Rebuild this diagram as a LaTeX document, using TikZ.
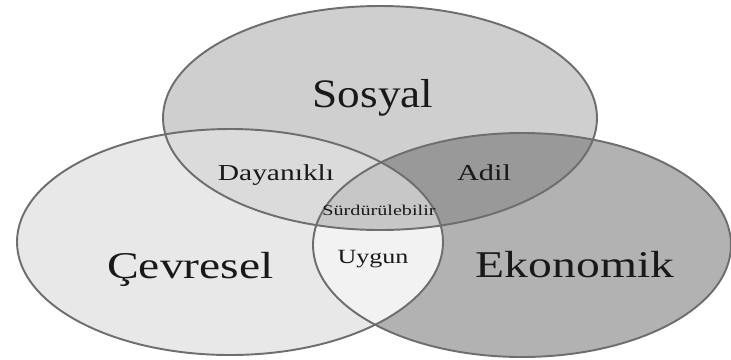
\documentclass[tikz,border=0pt]{standalone}
\usepackage{graphicx}
\usepackage{fontspec}
\setmainfont{Liberation Serif}
\tikzset{
  rim/.style={draw=black!57, line width=1.1pt},
  word/.style={anchor=base, text=black!90, inner sep=0pt}
}
\begin{document}
\begin{tikzpicture}
\useasboundingbox (0,0) rectangle (14.62,7.18);

\def\sosyalcircle{(7.60,4.82) ellipse (4.34cm and 2.24cm)}
\def\cevrecircle{(4.60,2.34) ellipse (4.26cm and 2.26cm)}
\def\ekocircle{(10.44,2.28) ellipse (4.18cm and 2.24cm)}

\fill[black!9] \cevrecircle;
\fill[black!30] \ekocircle;
\fill[black!19] \sosyalcircle;

\begin{scope}
\clip \sosyalcircle;
\fill[black!14] \cevrecircle;
\fill[black!40] \ekocircle;
\end{scope}

\begin{scope}
\clip \cevrecircle;
\fill[black!5] \ekocircle;
\end{scope}

\begin{scope}
\clip \sosyalcircle;
\clip \cevrecircle;
\fill[black!22] \ekocircle;
\end{scope}

\draw[rim] \cevrecircle;
\draw[rim] \ekocircle;
\draw[rim] \sosyalcircle;

\node[word] (sosyal) at (7.46,5.04) {\fontsize{23}{27}\selectfont\scalebox{1.12}[1]{Sosyal}};
\node[word] (cevre) at (3.81,1.62) {\fontsize{21.5}{25}\selectfont\scalebox{1.26}[1]{Çevresel}};
\node[word] (eko) at (11.50,1.64) {\fontsize{21.5}{25}\selectfont\scalebox{1.26}[1]{Ekonomik}};
\node[word] (dayanikli) at (5.52,3.58) {\fontsize{13}{15}\selectfont\scalebox{1.29}[1]{Dayanıklı}};
\node[word] (adil) at (9.68,3.58) {\fontsize{13}{15}\selectfont\scalebox{1.33}[1]{Adil}};
\node[word] (surdur) at (7.58,2.88) {\fontsize{8.5}{10}\selectfont\scalebox{1.35}[1]{Sürdürülebilir}};
\node[word] (uygun) at (7.46,1.92) {\fontsize{11.5}{13}\selectfont\scalebox{1.29}[1]{Uygun}};
\end{tikzpicture}
\end{document}
